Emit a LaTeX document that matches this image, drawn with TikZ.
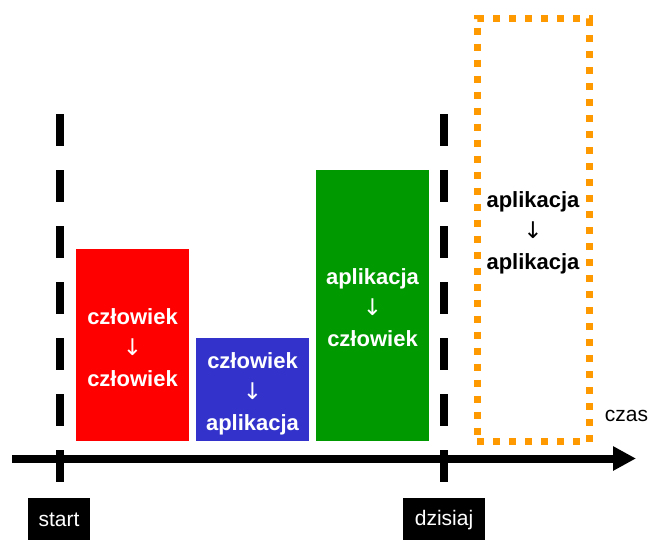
\documentclass[tikz,border=0pt]{standalone}
\usepackage{fontspec}
\setmainfont{Liberation Sans}
\newfontfamily\arrowfont{DejaVu Sans}
\usetikzlibrary{arrows.meta}
\definecolor{boxred}{HTML}{FF0000}
\definecolor{boxblue}{HTML}{3333CC}
\definecolor{boxgreen}{HTML}{009900}
\definecolor{planorange}{HTML}{FF9900}
% downward arrow between the two roles
\newcommand{\rolearrow}{{\arrowfont\mdseries\fontsize{23}{31}\selectfont ↓}}

\begin{document}
\begin{tikzpicture}[x=1pt,y=-1pt,
  period/.style={fill=#1, draw=none, minimum width=113pt, inner sep=0pt},
  future/.style={draw=planorange, line width=7pt, dash pattern=on 7pt off 9pt,
    minimum width=112pt, minimum height=423pt, inner sep=0pt},
  roles/.style={text=#1, inner sep=0pt, align=center,
    font=\bfseries\fontsize{22}{31}\selectfont},
  milestone/.style={black, line width=8pt, dash pattern=on 32pt off 24pt},
  timeline/.style={black, line width=8pt, -{Triangle[length=23pt,width=23pt]}},
  marker/.style={fill=black, text=white, inner sep=0pt,
    minimum height=44pt, font=\fontsize{21}{25}\selectfont},
  axislabel/.style={text=black, inner sep=0pt, font=\fontsize{21}{25}\selectfont}]

\useasboundingbox (0,0) rectangle (653,539);

% phases
\node[period=boxred, minimum height=192pt] (p1) at (132.5,345) {};
\node[period=boxblue, minimum height=103pt] (p2) at (252.5,389.5) {};
\node[period=boxgreen, minimum height=271pt] (p3) at (372.5,305.5) {};
\node[future] (p4) at (533,230) {};

\node[roles=white] (r1) at ([yshift=-3pt]p1.center) {człowiek\\\rolearrow\\człowiek};
\node[roles=white] (r2) at ([yshift=-4pt]p2.center) {człowiek\\\rolearrow\\aplikacja};
\node[roles=white] (r3) at ([yshift=-2.5pt]p3.center) {aplikacja\\\rolearrow\\człowiek};
\node[roles=black] (r4) at ([yshift=-3pt]p4.center) {aplikacja\\\rolearrow\\aplikacja};

% milestones
\coordinate (m1top) at (60,114);
\coordinate (m1bot) at (60,482);
\coordinate (m2top) at (444,114);
\coordinate (m2bot) at (444,482);
\draw[milestone] (m1top) -- (m1bot);
\draw[milestone] (m2top) -- (m2bot);

% time axis
\coordinate (t0) at (12,458.5);
\coordinate (t1) at (636,458.5);
\draw[timeline] (t0) -- (t1);
\node[axislabel] (czas) at (626.5,416) {czas};

% milestone labels
\node[marker, minimum width=62pt] (start) at (59,520) {start};
\node[marker, minimum width=82pt] (today) at (444,520) {dzisiaj};
\end{tikzpicture}
\end{document}
